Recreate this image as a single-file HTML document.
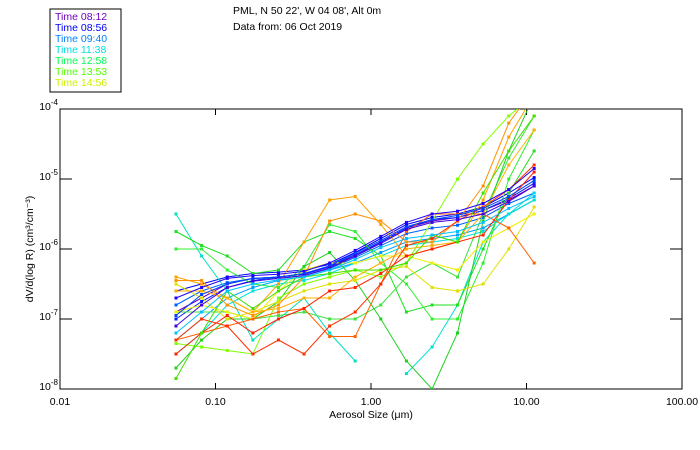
<!DOCTYPE html>
<html><head><meta charset="utf-8"><style>
body{margin:0;background:#fff;}
svg{display:block;font-family:"Liberation Sans",sans-serif;}
</style></head><body>
<svg id="c" width="700" height="450">
<g>
<rect x="50" y="9" width="71" height="83" fill="#fff" stroke="#000"/>
<g font-size="10.5">
<text x="55" y="20" fill="#7000c0">Time 08:12</text>
<text x="55" y="31" fill="#0000ff">Time 08:56</text>
<text x="55" y="42" fill="#0080ff">Time 09:40</text>
<text x="55" y="53" fill="#00e0e0">Time 11:38</text>
<text x="55" y="64" fill="#00ff50">Time 12:58</text>
<text x="55" y="75" fill="#50ff00">Time 13:53</text>
<text x="55" y="86" fill="#d0f000">Time 14:56</text>
</g></g>
<text x="233" y="14" font-size="10.5">PML, N 50 22', W 04 08', Alt 0m</text>
<text x="233" y="30" font-size="10.5">Data from: 06 Oct 2019</text>
<g id="axes"></g>
<g id="marks"></g>
<text x="371" y="418" font-size="10.5" text-anchor="middle">Aerosol Size (μm)</text>
<text transform="translate(33,249) rotate(-90)" font-size="10.5" text-anchor="middle">dV/d(log R) (cm³/cm⁻³)</text>
</svg>
<script>
const xTicks=[0.01,0.1,1,10,100];
const xTickLabels=["0.01","0.10","1.00","10.00","100.00"];
const yTickExps=[-8,-7,-6,-5,-4];
const sizes=[0.0557,0.0814,0.119,0.174,0.254,0.371,0.542,0.791,1.156,1.69,2.47,3.60,5.26,7.69,11.2];
const seriesColors=["#7000c0","#0000ff","#0020ff","#0060ff","#00a0ff","#00e0e0","#00e0c0","#00e0d0","#20e020","#30f030","#40e040","#20d020","#80ff00","#e0e000","#f0f000","#ffa000","#ff9000","#ff6000","#ffb000","#ff2000","#ff3000","#40e000","#2000ff","#0040ff","#4000e0","#00c0ff"];
const s1=[-6.9,-6.7,-6.5,-6.42,-6.4,-6.36,-6.25,-6.1,-5.9,-5.7,-5.6,-5.55,-5.45,-5.3,-5.1];
const s2=[-6.6,-6.5,-6.4,-6.35,-6.33,-6.3,-6.22,-6.05,-5.85,-5.65,-5.55,-5.5,-5.4,-5.2,-4.98];
const s3=[-7.0,-6.75,-6.55,-6.45,-6.4,-6.36,-6.25,-6.08,-5.9,-5.7,-5.58,-5.55,-5.45,-5.28,-5.06];
const s4=[-6.8,-6.6,-6.48,-6.42,-6.42,-6.38,-6.28,-6.12,-5.95,-5.78,-5.7,-5.66,-5.55,-5.35,-5.2];
const s5=[-7.3,-7.0,-6.7,-6.55,-6.45,-6.4,-6.3,-6.2,-6.05,-5.9,-5.85,-5.8,-5.7,-5.5,-5.3];
const s6=[-7.5,-7.2,-6.8,-6.6,-6.5,-6.45,-6.35,-6.2,-6.1,-5.95,-5.9,-5.85,-5.75,-5.5,-5.2];
const s7=[-5.5,-6.1,-6.6,-7.3,-7.0,-6.7,-7.2,-7.6,null,null,null,null,null,null,null];
const s8=[null,null,null,null,null,null,null,null,null,-7.78,-7.4,-6.8,-5.9,-5.5,-5.3];
const s9=[-5.75,-5.95,-6.1,-6.35,-6.3,-5.9,-5.75,-5.85,-6.1,-6.9,-6.8,-6.8,-6.0,-5.2,-4.6];
const s10=[-6.0,-6.0,-6.3,-6.5,-6.55,-6.25,-5.65,-5.75,-6.2,-6.5,-7.0,-7.0,-6.2,-5.0,-4.3];
const s11=[-6.9,-6.9,-6.9,-7.0,-6.95,-6.9,-7.0,-7.0,-6.8,-6.4,-6.2,-6.4,-5.5,-4.7,-4.1];
const s12=[-7.7,-7.3,-7.0,-7.0,-6.75,-6.25,-6.05,-6.45,-7.0,-7.6,-8.0,-7.2,-5.6,-4.6,-3.8];
const s13=[-7.35,-7.4,-7.45,-7.5,-6.7,-6.5,-6.4,-6.3,-6.4,-6.2,-5.6,-5.0,-4.5,-4.1,-3.8];
const s14=[-6.5,-6.7,-7.0,-6.9,-6.75,-6.6,-6.5,-6.45,-6.3,-6.25,-6.55,-6.6,-6.5,-6.0,-5.4];
const s15=[-6.9,-6.8,-6.9,-7.0,-6.6,-6.3,-6.2,-6.2,-6.1,-6.1,-6.2,-6.3,-5.9,-5.7,-5.5];
const s16=[-6.4,-6.5,-6.7,-6.9,-6.5,-5.9,-5.3,-5.25,-5.65,-6.1,-6.0,-5.9,-5.3,-4.4,-3.8];
const s17=[-6.45,-6.45,-6.8,-6.95,-6.8,-6.4,-5.6,-5.5,-5.6,-5.9,-5.9,-5.6,-5.1,-4.2,-3.7];
const s18=[-7.3,-7.2,-7.1,-7.0,-6.9,-6.85,-7.25,-7.25,-6.5,-5.75,-5.5,-5.5,-5.5,-5.7,-6.2];
const s19=[-6.6,-6.6,-6.7,-6.9,-6.85,-6.7,-6.7,-6.4,-6.2,-6.0,-5.95,-5.9,-5.5,-4.8,-4.3];
const s20=[-7.5,-7.2,-6.95,-7.2,-7.0,-6.85,-6.6,-6.55,-6.35,-6.1,-6.0,-5.9,-5.8,-5.3,-4.9];
const s21=[-7.3,-7.0,-7.1,-7.5,-7.3,-7.5,-7.1,-6.9,-6.5,-5.95,-5.85,-5.6,-5.4,-5.15,-4.8];
const s22=[-7.85,-7.2,-6.6,-6.85,-6.6,-6.4,-6.35,-6.3,-6.3,-6.2,-5.8,-5.9,-5.2,-4.6,-4.1];
const s23=[-6.7,-6.55,-6.42,-6.38,-6.36,-6.32,-6.2,-6.02,-5.82,-5.62,-5.5,-5.46,-5.35,-5.15,-4.85];
const s24=[-6.95,-6.65,-6.5,-6.42,-6.4,-6.35,-6.24,-6.06,-5.88,-5.68,-5.58,-5.52,-5.42,-5.25,-5.02];
const s25=[-7.1,-6.8,-6.55,-6.46,-6.42,-6.38,-6.27,-6.1,-5.92,-5.72,-5.62,-5.58,-5.5,-5.32,-5.1];
const s26=[-7.2,-6.9,-6.6,-6.5,-6.44,-6.4,-6.3,-6.15,-5.98,-5.85,-5.8,-5.75,-5.62,-5.42,-5.25];
const allSeries=[s1,s2,s3,s4,s5,s6,s7,s8,s9,s10,s11,s12,s13,s14,s15,s16,s17,s18,s19,s20,s21,s22,s23,s24,s25,s26];

const X0=60,X1=682,Y0=389,Y1=109;
const NS="http://www.w3.org/2000/svg";
function xs(v){return X0+(Math.log10(v)+2)/4*(X1-X0);}
function ys(e){return Y0-(e+8)/4*(Y0-Y1);}
function mk(tag,attrs,parent){const e=document.createElementNS(NS,tag);for(const k in attrs)e.setAttribute(k,attrs[k]);parent.appendChild(e);return e;}
const axes=document.getElementById('axes'),marks=document.getElementById('marks');
const frame=mk('rect',{x:X0,y:Y1,width:X1-X0,height:Y0-Y1,fill:'none',stroke:'#000'},axes);


xTicks.forEach((t,i)=>{
  const x=xs(t);
  const tk=mk('path',{d:`M${x},${Y0}v-6M${x},${Y1}v6`,stroke:'#000'},axes);
  
  
  const l=mk('text',{x:x,y:Y0+16,'font-size':'10.5','text-anchor':'middle'},axes);
  l.textContent=xTickLabels[i];
  
  
});
yTickExps.forEach(e=>{
  const y=ys(e);
  const tk=mk('path',{d:`M${X0},${y}h12M${X1},${y}h-12`,stroke:'#000'},axes);
  
  
  const l=mk('text',{x:X0-2,y:y+1,'font-size':'10.5','text-anchor':'end'},axes);
  l.innerHTML='10<tspan dy="-5" font-size="8">'+e+'</tspan>';
  
  
});
const clip=mk('clipPath',{id:'pc'},mk('defs',{},document.getElementById('c')));
mk('rect',{x:X0,y:Y1,width:X1-X0,height:Y0-Y1},clip);
marks.setAttribute('clip-path','url(#pc)');
allSeries.forEach((s,si)=>{
  const col=seriesColors[si%seriesColors.length];
  const g=mk('g',{},marks);
  
  
  let d='',pen=false;
  s.forEach((v,i)=>{
    if(v===null){pen=false;return;}
    d+=(pen?'L':'M')+xs(sizes[i]).toFixed(1)+','+ys(v).toFixed(1);pen=true;
  });
  const p=mk('path',{d:d,fill:'none',stroke:col,'stroke-width':1},g);
  
  
  s.forEach((v,i)=>{
    if(v===null)return;
    const r=mk('rect',{x:xs(sizes[i])-1.5,y:ys(v)-1.5,width:3,height:3,fill:col},g);
    
    
  });
});
</script>
</body></html>
